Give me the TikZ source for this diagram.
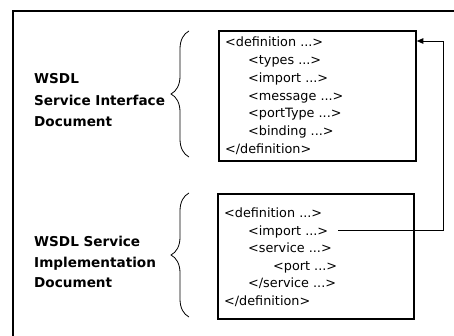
\documentclass[tikz,border=0pt]{standalone}
\usepackage{fontspec}
\setmainfont{DejaVu Sans}
\usetikzlibrary{arrows.meta,decorations.pathreplacing}
\begin{document}
\begin{tikzpicture}[x=1pt,y=-1pt,
  frame/.style={line width=1.1pt},
  codebox/.style={draw,line width=1.8pt,inner sep=0pt,anchor=north west},
  code/.style={anchor=base west,inner sep=0pt,font=\fontsize{12.8}{15}\selectfont},
  lbl/.style={anchor=base west,inner sep=0pt,font=\bfseries\fontsize{13.6}{17}\selectfont},
  bracestyle/.style={decorate,decoration={brace,amplitude=18pt,aspect=0.5},line width=0.8pt},
  link/.style={line width=0.9pt}]
\useasboundingbox (0,0) rectangle (454,336);
% outer frame (cropped)
\draw[frame] (13,336) -- (13,11) -- (454,11);
% boxes
\node[codebox,minimum width=197pt,minimum height=130pt] (box1) at (218,30) {};
\node[codebox,minimum width=196pt,minimum height=125pt] (box2) at (217,193) {};
% upper code
\node[code] (a1) at (225,47) {<definition ...>};
\node[code] (a2) at (248,64.7) {<types ...>};
\node[code] (a3) at (248,82.4) {<import ...>};
\node[code] (a4) at (248,100.1) {<message ...>};
\node[code] (a5) at (248,117.8) {<portType ...>};
\node[code] (a6) at (248,135.5) {<binding ...>};
\node[code] (a7) at (225,153.2) {</definition>};
% lower code
\node[code] (b1) at (224,218) {<definition ...>};
\node[code] (b2) at (248,235.4) {<import ...>};
\node[code] (b3) at (248,252.8) {<service ...>};
\node[code] (b4) at (273,270.2) {<port ...>};
\node[code] (b5) at (248,287.6) {</service ...>};
\node[code] (b6) at (224,305) {</definition>};
% labels
\node[lbl] (l1) at (34,84) {WSDL};
\node[lbl] (l2) at (34,105.5) {Service Interface};
\node[lbl] (l3) at (34,127) {Document};
\node[lbl] (m1) at (34,247) {WSDL Service};
\node[lbl] (m2) at (34,267) {Implementation};
\node[lbl] (m3) at (34,287) {Document};
% braces
\draw[bracestyle] (189,157) -- (189,31);
\draw[bracestyle] (189,317) -- (189,193);
% link
\coordinate (start) at (338,230);
\coordinate (turn) at (443,41);
\draw[link,-{Triangle[length=6.5pt,width=5.5pt]}] (start) -- (start -| turn) -- (turn) -- (box1.east |- turn);
\end{tikzpicture}
\end{document}
